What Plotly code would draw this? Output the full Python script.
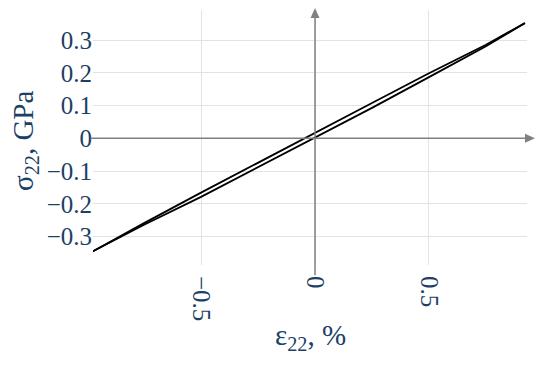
import plotly.graph_objects as go

# strain (%) and stress (GPa) for the two branches of the loop
strain = [-0.974, -0.75, -0.5, -0.25, 0.0, 0.25, 0.5, 0.75, 0.921]
stress_upper = [-0.345, -0.259, -0.166, -0.074, 0.017, 0.108, 0.199, 0.286, 0.352]
stress_lower = [-0.345, -0.264, -0.179, -0.089, 0.002, 0.093, 0.187, 0.281, 0.352]

x_ticks = [-0.5, 0, 0.5]
x_tick_labels = ["−0.5", "0", "0.5"]
y_ticks = [-0.3, -0.2, -0.1, 0, 0.1, 0.2, 0.3]
y_tick_labels = ["−0.3", "−0.2", "−0.1", "0", "0.1", "0.2", "0.3"]

X_RANGE = [-0.974, 0.930]
Y_RANGE = [-0.387, 0.392]

# page body adds an 8px offset, so the margins are shifted to compensate
WIDTH, HEIGHT = 550, 365
MARGIN = {"l": 85, "r": 31, "t": 2, "b": 108}
PLOT_W = WIDTH - MARGIN["l"] - MARGIN["r"]
PLOT_H = HEIGHT - MARGIN["t"] - MARGIN["b"]

FONT = "Liberation Serif, Times New Roman, serif"
TEXT_COLOR = "#1c3f66"
AXIS_COLOR = "#808080"
GRID_COLOR = "#e3e3e3"


def to_paper_x(v):
    return (v - X_RANGE[0]) / (X_RANGE[1] - X_RANGE[0])


def to_paper_y(v):
    return (v - Y_RANGE[0]) / (Y_RANGE[1] - Y_RANGE[0])


def px_to_paper(fx, fy):
    return (fx - MARGIN["l"]) / PLOT_W, (HEIGHT - MARGIN["b"] - fy) / PLOT_H


fig = go.Figure()

for ys in (stress_upper, stress_lower):
    fig.add_trace(
        go.Scatter(
            x=strain,
            y=ys,
            mode="lines",
            line={"color": "black", "width": 1.8},
            showlegend=False,
            hoverinfo="skip",
        )
    )

# axes with arrows crossing at the origin (paper coords so they run past the grid)
head_len, head_half = 10, 4.5
x0p, y0p = to_paper_x(0), to_paper_y(0)
x_tip = to_paper_x(0.965)
y_tip = to_paper_y(0.398)
x_start = to_paper_x(-0.985)
y_start = to_paper_y(-0.418)

fig.add_shape(type="line", xref="paper", yref="paper",
              x0=x_start, y0=y0p, x1=x_tip - head_len / PLOT_W, y1=y0p,
              line={"color": AXIS_COLOR, "width": 1.5})
fig.add_shape(type="line", xref="paper", yref="paper",
              x0=x0p, y0=y_start, x1=x0p, y1=y_tip - head_len / PLOT_H,
              line={"color": AXIS_COLOR, "width": 1.5})
fig.add_shape(
    type="path", xref="paper", yref="paper",
    path=(f"M {x_tip} {y0p} "
          f"L {x_tip - head_len / PLOT_W} {y0p + head_half / PLOT_H} "
          f"L {x_tip - head_len / PLOT_W} {y0p - head_half / PLOT_H} Z"),
    fillcolor=AXIS_COLOR, line={"width": 0},
)
fig.add_shape(
    type="path", xref="paper", yref="paper",
    path=(f"M {x0p} {y_tip} "
          f"L {x0p - head_half / PLOT_W} {y_tip - head_len / PLOT_H} "
          f"L {x0p + head_half / PLOT_W} {y_tip - head_len / PLOT_H} Z"),
    fillcolor=AXIS_COLOR, line={"width": 0},
)

# axis titles as annotations for exact placement
tx, ty = px_to_paper(302, 329)
fig.add_annotation(
    xref="paper", yref="paper", x=tx, y=ty,
    xanchor="center", yanchor="middle", showarrow=False,
    text="ε<sub>22</sub>, %",
    font={"family": FONT, "size": 29, "color": TEXT_COLOR},
)
tx, ty = px_to_paper(17, 133)
fig.add_annotation(
    xref="paper", yref="paper", x=tx, y=ty,
    xanchor="center", yanchor="middle", showarrow=False,
    textangle=-90,
    text="σ<sub>22</sub>, GPa",
    font={"family": FONT, "size": 29, "color": TEXT_COLOR},
)

fig.update_xaxes(
    range=X_RANGE,
    tickvals=x_ticks,
    ticktext=x_tick_labels,
    tickangle=90,
    showgrid=True,
    gridcolor=GRID_COLOR,
    zeroline=False,
    showline=False,
    ticks="outside",
    ticklen=5,
    tickcolor="rgba(0,0,0,0)",
    automargin=False,
    tickfont={"family": FONT, "size": 25, "color": TEXT_COLOR},
)
fig.update_yaxes(
    range=Y_RANGE,
    tickvals=y_ticks,
    ticktext=y_tick_labels,
    showgrid=True,
    gridcolor=GRID_COLOR,
    zeroline=False,
    showline=False,
    ticks="",
    automargin=False,
    tickfont={"family": FONT, "size": 25, "color": TEXT_COLOR},
)

fig.update_layout(
    width=WIDTH,
    height=HEIGHT,
    margin={**MARGIN, "autoexpand": False},
    plot_bgcolor="white",
    paper_bgcolor="white",
    showlegend=False,
)

fig.write_html("out.html")
